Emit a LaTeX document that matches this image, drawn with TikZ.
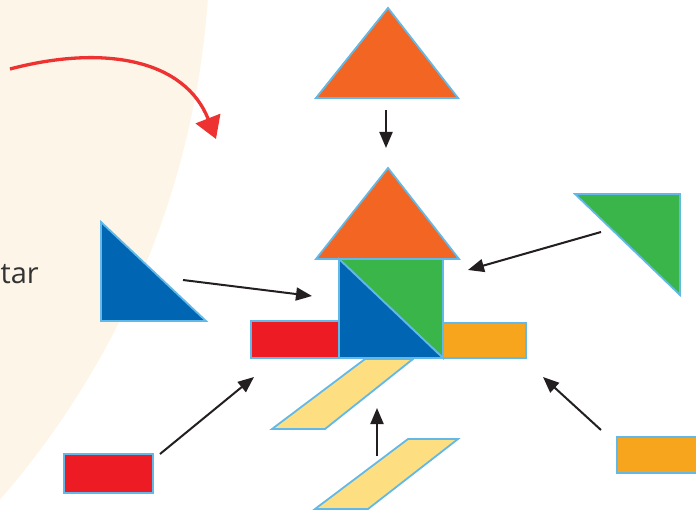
\documentclass[tikz,border=0pt]{standalone}
\usepackage{fontspec}
\setmainfont{Open Sans}
\usetikzlibrary{arrows.meta}

\definecolor{cream}{HTML}{FDF5E8}
\definecolor{edgeblue}{HTML}{62B8E6}
\definecolor{tanorange}{HTML}{F26522}
\definecolor{tanblue}{HTML}{0066B3}
\definecolor{tangreen}{HTML}{39B54A}
\definecolor{tanred}{HTML}{ED1C24}
\definecolor{tanamber}{HTML}{F8A51E}
\definecolor{tanyellow}{HTML}{FDDF82}
\definecolor{curvered}{HTML}{EE3231}
\definecolor{arrowgray}{HTML}{231F20}
\definecolor{textgray}{HTML}{333333}

\begin{document}
\begin{tikzpicture}[
    x=1pt, y=-1pt,
    piece/.style={draw=edgeblue, line width=1.8pt},
    push/.style={-{Triangle[length=16pt,width=13pt]}, line width=2pt, draw=arrowgray, fill=arrowgray},
]
\clip (0,0) rectangle (696,513);
\fill[cream] (-646,-62) circle (856pt);

\node[anchor=base east, inner sep=0pt, text=textgray, font=\fontsize{29}{34}\selectfont] (word) at (39,283) {tar};

\coordinate (curve-start) at (10,69);
\coordinate (curve-end) at (216,139);
\draw[curvered, line width=3.3pt, -{Triangle[length=22pt,width=26pt]}]
    (curve-start) .. controls (105,44) and (185,60) .. (curve-end);

% loose pieces
\filldraw[piece, fill=tanorange] (388,8) -- (458,98) -- (316,98) -- cycle;
\filldraw[piece, fill=tanblue] (101,222) -- (206,321) -- (101,321) -- cycle;
\filldraw[piece, fill=tangreen] (575,194) -- (680,194) -- (680,295) -- cycle;
\filldraw[piece, fill=tanred] (64,454) rectangle (153,493);
\filldraw[piece, fill=tanamber] (617,437) rectangle (700,473);
\filldraw[piece, fill=tanyellow] (408,439) -- (458,439) -- (368,509) -- (315,509) -- cycle;

% the house
\filldraw[piece, fill=tanorange] (388,168) -- (459,259) -- (316,259) -- cycle;
\filldraw[piece, fill=tangreen] (339,259) -- (443,259) -- (443,358) -- cycle;
\filldraw[piece, fill=tanblue] (339,259) -- (443,358) -- (339,358) -- cycle;
\filldraw[piece, fill=tanred] (251,321) rectangle (339,358);
\filldraw[piece, fill=tanamber] (443,323) rectangle (526,358);
\filldraw[piece, fill=tanyellow] (365,359) -- (413,359) -- (325,429) -- (272,429) -- cycle;

\coordinate (roof-out) at (386,110);
\coordinate (roof-in) at (386,148);
\coordinate (blue-out) at (183,280);
\coordinate (blue-in) at (312,296);
\coordinate (green-out) at (601,232);
\coordinate (green-in) at (468,270);
\coordinate (red-out) at (160,454);
\coordinate (red-in) at (254,377);
\coordinate (para-out) at (377,456);
\coordinate (para-in) at (377,408);
\coordinate (amber-out) at (601,430);
\coordinate (amber-in) at (543,377);

\draw[push] (roof-out) -- (roof-in);
\draw[push] (blue-out) -- (blue-in);
\draw[push] (green-out) -- (green-in);
\draw[push] (red-out) -- (red-in);
\draw[push] (para-out) -- (para-in);
\draw[push] (amber-out) -- (amber-in);
\end{tikzpicture}
\end{document}
